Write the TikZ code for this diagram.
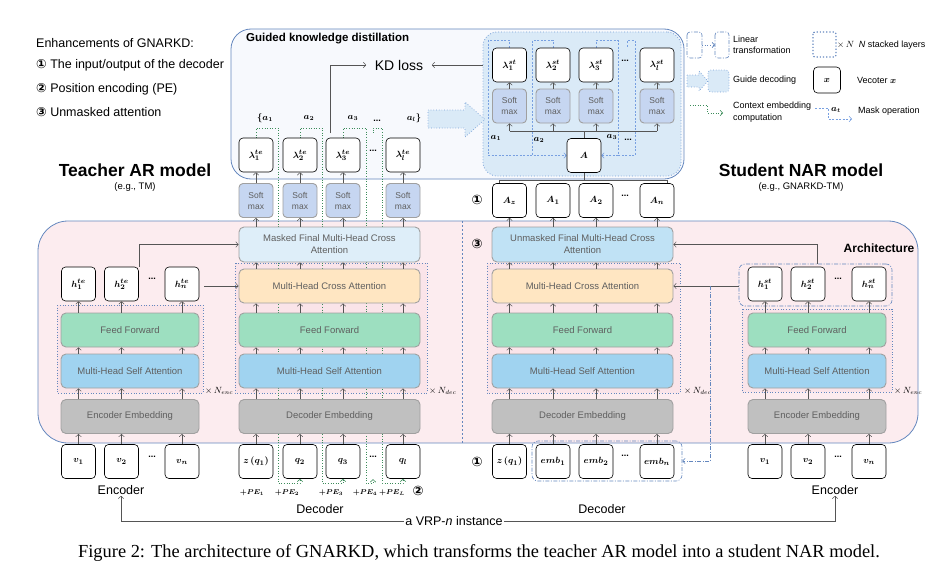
\documentclass[tikz,border=0pt]{standalone}
\usepackage{fontspec}
\setmainfont{Liberation Sans}
\newfontfamily\capfont{Liberation Serif}
\newfontfamily\circfont{DejaVu Sans}
\usepackage{amsmath, bm}
\usetikzlibrary{arrows.meta, positioning, calc}

\definecolor{linegray}{RGB}{85, 85, 85}
\definecolor{txtgray}{RGB}{95, 95, 95}
\definecolor{boxgray}{RGB}{160, 160, 160}
\definecolor{frameblue}{RGB}{100, 135, 190}
\definecolor{kdfill}{RGB}{247, 249, 253}
\definecolor{guidefill}{RGB}{218, 234, 247}
\definecolor{guideline}{RGB}{120, 160, 215}
\definecolor{archfill}{RGB}{252, 236, 239}
\definecolor{stackfill}{RGB}{250, 228, 233}
\definecolor{smfill}{RGB}{198, 214, 241}
\definecolor{mfinfill}{RGB}{222, 238, 249}
\definecolor{ufinfill}{RGB}{192, 226, 245}
\definecolor{crossfill}{RGB}{255, 230, 194}
\definecolor{fffill}{RGB}{157, 223, 192}
\definecolor{safill}{RGB}{160, 211, 240}
\definecolor{embfill}{RGB}{192, 192, 192}
\definecolor{ctxgreen}{RGB}{60, 140, 90}
\definecolor{maskblue}{RGB}{120, 160, 225}

\newcommand{\cnum}[1]{{\circfont\bfseries #1}}

\pgfdeclarelayer{back}
\pgfdeclarelayer{mid}
\pgfsetlayers{back,mid,main}

\tikzset{
  vecbox/.style={draw=black, fill=white, rounded corners=4pt, minimum width=34pt, minimum height=34pt, inner sep=0pt, line width=0.6pt, font=\fontsize{9.5}{10}\selectfont},
  softbox/.style={draw=boxgray, fill=smfill, rounded corners=4pt, minimum width=34pt, minimum height=34pt, inner sep=0pt, line width=0.9pt, align=center, text=txtgray, font=\fontsize{8.5}{11}\selectfont},
  layerbox/.style={draw=boxgray, rounded corners=5pt, minimum height=34pt, inner sep=0pt, line width=0.9pt, align=center, text=txtgray, font=\fontsize{9.5}{12}\selectfont},
  stackbox/.style={draw=frameblue, dotted, line width=0.7pt, fill=stackfill},
  barb/.style={-{Straight Barb[length=2.5pt,width=5.5pt]}},
  arr/.style={draw=linegray, line width=0.5pt, barb},
  lin/.style={draw=linegray, line width=0.5pt},
  ctxline/.style={draw=ctxgreen, dotted, line width=0.6pt},
  maskline/.style={draw=maskblue, dash pattern=on 2pt off 1.5pt, line width=0.6pt},
  dashdotline/.style={draw=frameblue, dash pattern=on 4pt off 1.5pt on 1pt off 1.5pt, line width=0.6pt},
  ellip/.style={font=\bfseries\fontsize{9}{9}\selectfont, inner sep=0pt},
  lbl/.style={font=\fontsize{9}{10}\selectfont, inner sep=1pt},
  txt/.style={font=\fontsize{12.5}{14}\selectfont, inner sep=1pt},
  legtxt/.style={anchor=west, align=left, font=\fontsize{9}{11.5}\selectfont, inner sep=0pt},
  guidearr/.style={draw=guideline, dotted, fill=guidefill, line width=0.7pt},
}

\begin{document}
\begin{tikzpicture}[x=1pt, y=-1pt]
  \useasboundingbox (0,0) rectangle (952,578);

  % Enhancements list
  \node[txt, anchor=west] (enh) at (35,43) {Enhancements of GNARKD:};
  \node[txt, anchor=west] (enh1) at (35,65) {\cnum{①} The input/output of the decoder};
  \node[txt, anchor=west] (enh2) at (35,89) {\cnum{②} Position encoding (PE)};
  \node[txt, anchor=west] (enh3) at (35,112) {\cnum{③} Unmasked attention};

  % Model names
  \node[font=\bfseries\fontsize{17.5}{20}\selectfont] (tname) at (135,170) {Teacher AR model};
  \node[font=\fontsize{9.5}{11}\selectfont] (tsub) at (135,187) {(e.g., TM)};
  \node[font=\bfseries\fontsize{17.5}{20}\selectfont] (sname) at (801,170) {Student NAR model};
  \node[font=\fontsize{9.5}{11}\selectfont] (ssub) at (801,187) {(e.g., GNARKD-TM)};

  % Frames
  \begin{pgfonlayer}{back}
    \draw[draw=frameblue, fill=kdfill, rounded corners=20pt, line width=0.8pt] (231,29) rectangle (684,179);
    \node[draw=guideline, fill=guidefill, dotted, rounded corners=14pt, line width=0.8pt, minimum width=198pt, minimum height=144pt] (guide) at (582,104) {};
    \draw[draw=frameblue, fill=archfill, rounded corners=30pt, line width=0.8pt] (38,221) rectangle (918,443);
    \draw[draw=frameblue, dash pattern=on 2pt off 2pt, line width=0.5pt] (462,221) -- (462,443);
    \draw[stackbox] (57,305) rectangle (203,393);
    \draw[stackbox] (235,263) rectangle (427,393);
    \draw[stackbox] (487,263) rectangle (680,393);
    \draw[stackbox] (742,309) rectangle (892,392);
    \node[dashdotline, fill=archfill, rounded corners=6pt, minimum width=153pt, minimum height=42pt] (shgrp) at (815.5,285) {};
    \node[dashdotline, rounded corners=6pt, minimum width=150pt, minimum height=40pt] (sembgrp) at (607,461) {};
  \end{pgfonlayer}

  \node[anchor=west, font=\bfseries\fontsize{11.5}{13}\selectfont, inner sep=0pt] (kdtitle) at (246,39) {Guided knowledge distillation};
  \node[font=\fontsize{14}{16}\selectfont, inner xsep=8.5pt] (kd) at (399,65) {KD loss};
  \node[font=\bfseries\fontsize{12}{14}\selectfont] (archlbl) at (879,248) {Architecture};

  % Teacher decoder
  \foreach \c/\x in {1/256,2/300,3/343,l/403}{
    \node[softbox] (tsm\c) at (\x,200.5) {Soft\\max};
    \node[vecbox] (tl\c) at (\x,155) {$\bm{\lambda^{te}_{\c}}$};
  }
  \node[ellip] (tldots) at (373,151) {...};
  \node[inner sep=0pt, minimum size=0pt] (tld) at (373,133) {};
  \node[vecbox] (tq1) at (256,461.5) {$\bm{z\,(q_1)}$};
  \node[vecbox] (tq2) at (300,461.5) {$\bm{q_2}$};
  \node[vecbox] (tq3) at (343,461.5) {$\bm{q_3}$};
  \node[vecbox] (tql) at (403,461.5) {$\bm{q_l}$};
  \node[ellip] (tqdots) at (373,457) {...};
  \node[inner sep=0pt, minimum size=0pt] (tqd) at (373,479) {};
  \node[layerbox, fill=embfill, minimum width=181pt] (tde) at (329.5,416.5) {Decoder Embedding};
  \node[layerbox, fill=safill, minimum width=181pt] (tdsa) at (329.5,371) {Multi-Head Self Attention};
  \node[layerbox, fill=fffill, minimum width=181pt] (tdff) at (329.5,330) {Feed Forward};
  \node[layerbox, fill=crossfill, minimum width=181pt] (tdca) at (329.5,286) {Multi-Head Cross Attention};
  \node[layerbox, fill=mfinfill, minimum width=181pt, minimum height=35pt] (tfin) at (329.5,244.5) {Masked Final Multi-Head Cross\\Attention};
  \foreach \c in {1,2,3,l}{
    \draw[arr] (tq\c.north) -- (tde.south -| tq\c);
    \draw[arr] (tde.north -| tq\c) -- (tdsa.south -| tq\c);
    \draw[arr] (tdsa.north -| tq\c) -- (tdff.south -| tq\c);
    \draw[arr] (tdff.north -| tq\c) -- (tdca.south -| tq\c);
    \draw[arr] (tdca.north -| tq\c) -- (tfin.south -| tq\c);
    \draw[arr] (tfin.north -| tq\c) -- (tsm\c.south);
    \draw[arr] (tsm\c.north) -- (tl\c.south);
  }
  \node[lbl] (ta1) at (265,118) {$\bm{\{a_1}$};
  \node[lbl] (ta2) at (309,118) {$\bm{a_2}$};
  \node[lbl] (ta3) at (353,118) {$\bm{a_3}$};
  \node[ellip] (tadots) at (377,121) {...};
  \node[lbl] (tal) at (414,118) {$\bm{a_l\}}$};
  \foreach \c/\x in {1/252,2/287,3/331,4/365,L/392}
    \node[font=\fontsize{7.5}{8}\selectfont, inner sep=0pt] (pe\c) at (\x,493) {$\bm{+PE_{\c}}$};
  \node[font=\circfont\bfseries\fontsize{13}{13}\selectfont, inner sep=0pt] (num2) at (418,491) {②};
  \node[txt] (tdec) at (320,509) {Decoder};

  % Teacher encoder
  \foreach \c/\x in {1/78.5,2/121.5,n/182}{
    \node[vecbox] (tv\c) at (\x,461.5) {$\bm{v_{\c}}$};
    \node[vecbox] (th\c) at (\x,284) {$\bm{h^{te}_{\c}}$};
  }
  \node[ellip] (tvdots) at (152,457) {...};
  \node[ellip] (thdots) at (152,279) {...};
  \node[layerbox, fill=embfill, minimum width=138pt] (tee) at (130,416.5) {Encoder Embedding};
  \node[layerbox, fill=safill, minimum width=138pt] (tesa) at (130,371) {Multi-Head Self Attention};
  \node[layerbox, fill=fffill, minimum width=138pt] (teff) at (130,330) {Feed Forward};
  \foreach \c in {1,2,n}{
    \draw[arr] (tv\c.north) -- (tee.south -| tv\c);
    \draw[arr] (tee.north -| tv\c) -- (tesa.south -| tv\c);
    \draw[arr] (tesa.north -| tv\c) -- (teff.south -| tv\c);
    \draw[arr] (teff.north -| tv\c) -- (th\c.south);
  }
  \node[txt] (tenc) at (121,490) {Encoder};
  \draw[arr] (th2.north east) |- (tfin.west);
  \draw[arr] ([xshift=5pt]thn.east |- tdca.west) -- (tdca.west);
  \node[lbl, anchor=west] (tnenc) at (204,391) {$\times\, N_{enc}$};
  \node[lbl, anchor=west] (tndec) at (428,391) {$\times\, N_{dec}$};

  % Student decoder
  \foreach \c/\x in {1/509.5,2/553,3/596,l/657}{
    \node[vecbox] (sl\c) at (\x,65) {$\bm{\lambda^{st}_{\c}}$};
    \node[softbox] (ssm\c) at (\x,106) {Soft\\max};
  }
  \node[ellip] (sldots) at (625,61) {...};
  \node[inner sep=0pt, minimum size=0pt] (sld) at (627,47) {};
  \node[vecbox] (sA) at (584,155.5) {$\bm{A}$};
  \foreach \c/\x/\t in {1/509.5/z,2/553/1,3/596/2,l/657/n}
    \node[vecbox] (sa\c) at (\x,200.5) {$\bm{A_{\t}}$};
  \node[ellip] (sadots) at (625,196) {...};
  \node[vecbox] (si1) at (509.5,461.5) {$\bm{z\,(q_1)}$};
  \node[vecbox] (si2) at (553,461.5) {$\bm{emb_1}$};
  \node[vecbox] (si3) at (596,461.5) {$\bm{emb_2}$};
  \node[vecbox] (sil) at (657,461.5) {$\bm{emb_n}$};
  \node[ellip] (sidots) at (625,456) {...};
  \node[layerbox, fill=embfill, minimum width=181pt] (sde) at (582.5,416.5) {Decoder Embedding};
  \node[layerbox, fill=safill, minimum width=181pt] (sdsa) at (582.5,371) {Multi-Head Self Attention};
  \node[layerbox, fill=fffill, minimum width=181pt] (sdff) at (582.5,330) {Feed Forward};
  \node[layerbox, fill=crossfill, minimum width=181pt] (sdca) at (582.5,286) {Multi-Head Cross Attention};
  \node[layerbox, fill=ufinfill, minimum width=181pt, minimum height=35pt] (sfin) at (582.5,244.5) {Unmasked Final Multi-Head Cross\\Attention};
  \coordinate (sbus) at (584,131);
  \coordinate (abus) at (584,180);
  \foreach \c in {1,2,3,l}{
    \draw[arr] (si\c.north) -- (sde.south -| si\c);
    \draw[arr] (sde.north -| si\c) -- (sdsa.south -| si\c);
    \draw[arr] (sdsa.north -| si\c) -- (sdff.south -| si\c);
    \draw[arr] (sdff.north -| si\c) -- (sdca.south -| si\c);
    \draw[arr] (sdca.north -| si\c) -- (sfin.south -| si\c);
    \draw[arr] (sfin.north -| si\c) -- (sa\c.south);
    \draw[arr] (ssm\c.south |- sbus) -- (ssm\c.south);
    \draw[arr] (ssm\c.north) -- (sl\c.south);
  }
  \draw[lin] (sA.north) -- (sbus);
  \draw[lin] (ssm1.south |- sbus) -- (ssml.south |- sbus);
  \draw[lin] ([xshift=-10pt]sa1.north) -- ([xshift=-10pt]sa1.north |- abus) -- ([xshift=10pt]sal.north |- abus) -- ([xshift=10pt]sal.north);
  \draw[lin] (abus) -- (sA.south);
  \node[lbl] (sa1lbl) at (496,138) {$\bm{a_1}$};
  \node[lbl] (sa2lbl) at (539,140) {$\bm{a_2}$};
  \node[lbl] (sa3lbl) at (612,137) {$\bm{a_3}$};
  \node[ellip] (samdots) at (628,140) {...};
  \node[txt] (sdec) at (602,509) {Decoder};
  \node[lbl, anchor=west] (sndec) at (683,391) {$\times\, N_{dec}$};

  % Student encoder
  \foreach \c/\x in {1/765,2/808,n/869}{
    \node[vecbox] (sv\c) at (\x,461.5) {$\bm{v_{\c}}$};
    \node[vecbox] (sh\c) at (\x,284) {$\bm{h^{st}_{\c}}$};
  }
  \node[ellip] (svdots) at (838,457) {...};
  \node[ellip] (shdots) at (838,279) {...};
  \node[layerbox, fill=embfill, minimum width=138pt] (see) at (817,416.5) {Encoder Embedding};
  \node[layerbox, fill=safill, minimum width=138pt] (sesa) at (817,371) {Multi-Head Self Attention};
  \node[layerbox, fill=fffill, minimum width=138pt] (seff) at (817,330) {Feed Forward};
  \foreach \c in {1,2,n}{
    \draw[arr] (sv\c.north) -- (see.south -| sv\c);
    \draw[arr] (see.north -| sv\c) -- (sesa.south -| sv\c);
    \draw[arr] (sesa.north -| sv\c) -- (seff.south -| sv\c);
    \draw[arr] (seff.north -| sv\c) -- (sh\c.south);
  }
  \node[txt] (senc) at (835,490) {Encoder};
  \node[lbl, anchor=west] (snenc) at (893,391) {$\times\, N_{enc}$};
  \coordinate (shtap) at (817,264);
  \coordinate (embtap) at (710,286);
  \draw[arr] (shtap) |- (sfin.east);
  \draw[arr] (shgrp.west |- sdca.east) -- (sdca.east);
  \draw[dashdotline, barb] (embtap) |- (sembgrp.east);

  % Circled markers
  \node[font=\circfont\bfseries\fontsize{13}{13}\selectfont, inner sep=0pt] (num1a) at (477,200) {①};
  \node[font=\circfont\bfseries\fontsize{13}{13}\selectfont, inner sep=0pt] (num3) at (477,244) {③};
  \node[font=\circfont\bfseries\fontsize{13}{13}\selectfont, inner sep=0pt] (num1b) at (477,462) {①};

  % KD loss and guide decoding
  \coordinate (kdtap) at (330,133);
  \draw[arr] (kdtap) |- (kd.west);
  \draw[arr] (guide.west |- kd.east) -- (kd.east);
  \draw[guidearr] (428,110) -- (465,110) -- (465,102) -- (485,119.5) -- (465,137) -- (465,128) -- (428,128) -- cycle;

  % VRP instance
  \node[txt] (vrp) at (454,521) {a VRP-\textit{n} instance};
  \draw[arr] (vrp.west) -| (tenc.south);
  \draw[arr] (vrp.east) -| (senc.south);

  % Context embedding and mask operation
  \begin{pgfonlayer}{mid}
    \foreach \a/\b/\x in {tl1/tq2/278, tl2/tq3/322, tl3/tqd/366, tld/tql/382}
      \draw[ctxline, barb] (\a.north) -- ++(0,-5) |- (\x,128) -- (\x,483) -| (\b.south);
    \draw[maskline, barb] (sl1.north) -- ++(0,-7) -| (488,155.5) -- (sA.west);
    \draw[maskline] (sl2.north) -- ++(0,-7) -| (532,155.5);
    \draw[maskline, barb] (sl3.north) -- ++(0,-7) -| (618,155.5) -- (sA.east);
    \draw[maskline] (sld.north) -- ++(0,-6) -| (635,155.5) -- (618,155.5);
  \end{pgfonlayer}

  % Legend
  \draw[dashdotline, rounded corners=3pt] (687,32) rectangle (702,58);
  \draw[dashdotline, rounded corners=3pt] (715,32) rectangle (729,58);
  \draw[draw=frameblue, dotted, line width=0.7pt, barb] (702,45) -- (715,45);
  \node[legtxt] (leglin) at (733,45) {Linear\\transformation};
  \draw[draw=frameblue, dotted, line width=1.2pt, rounded corners=2pt] (813,32) rectangle (836,57);
  \node[legtxt] (legn) at (837,45) {$\times\,N$\enspace\textit{N} stacked layers};
  \draw[guidearr] (687,75) -- (699,75) -- (699,71) -- (708,81) -- (699,91) -- (699,87) -- (687,87) -- cycle;
  \draw[guidearr, rounded corners=3pt] (708,70) rectangle (729,92);
  \node[legtxt] (legguide) at (733,80) {Guide decoding};
  \node[vecbox, minimum width=27pt, minimum height=26pt] (legx) at (827,80) {$\bm{x}$};
  \node[legtxt] (legvec) at (857,80) {Vecoter $\bm{x}$};
  \draw[ctxline, barb] (690,105) -- (707,105) -- (707,113) -- (723,113);
  \node[legtxt] (legctx) at (733,112) {Context embedding\\computation};
  \draw[maskline, barb] (815,108) -- (828,108) -- (828,119) -- (852,119);
  \node[lbl] (legat) at (836,110) {$\bm{a_t}$};
  \node[legtxt] (legmask) at (858,111) {Mask operation};

  % Caption
  \node[font=\capfont\fontsize{18.4}{21}\selectfont] (cap) at (479,553) {Figure 2: The architecture of GNARKD, which transforms the teacher AR model into a student NAR model.};
\end{tikzpicture}
\end{document}
